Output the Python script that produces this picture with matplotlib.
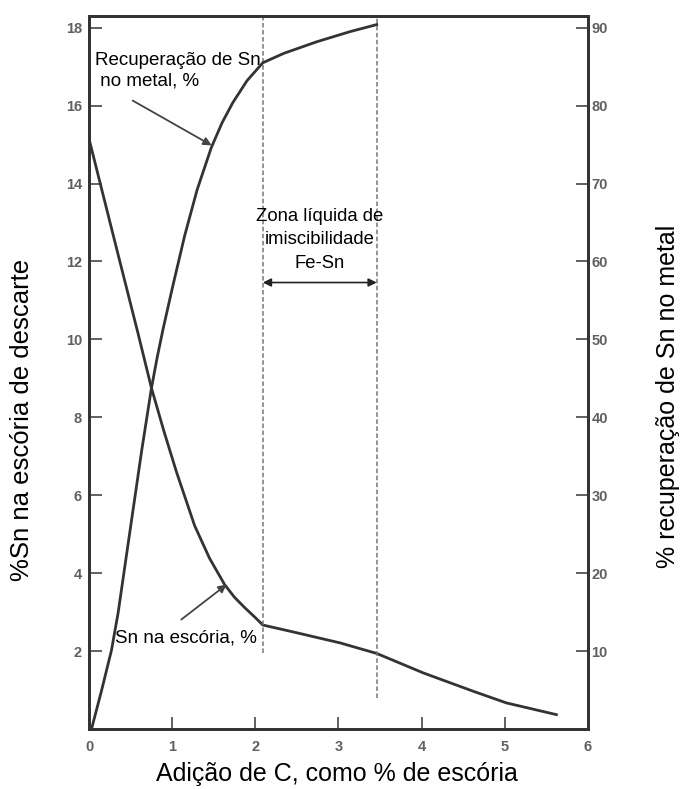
import numpy as np
import matplotlib
matplotlib.use("Agg")
import matplotlib.pyplot as plt

plt.rcParams['font.family'] = ['Liberation Sans', 'DejaVu Sans']

# Sn na escória (eixo esquerdo, %)
slag_x = [0.0, 0.30, 0.59, 0.75, 0.90, 1.05, 1.27, 1.45, 1.63, 1.75,
          1.875, 2.00, 2.09, 2.50, 3.02, 3.46, 4.02, 4.62, 5.02, 5.62]
slag_y = [15.15, 12.6, 10.15, 8.76, 7.65, 6.61, 5.22, 4.38, 3.71, 3.38,
          3.11, 2.86, 2.67, 2.47, 2.21, 1.94, 1.44, 0.97, 0.67, 0.37]

# Recuperação de Sn no metal (eixo direito, %)
rec_x = [0.03, 0.15, 0.27, 0.35, 0.43, 0.513, 0.633, 0.75, 0.82, 0.89,
         1.00, 1.15, 1.30, 1.47, 1.60, 1.73, 1.90, 2.09, 2.34, 2.74,
         3.14, 3.46]
rec_y = [0.0, 4.9, 10.1, 14.9, 20.8, 26.9, 35.7, 43.7, 47.7, 51.3,
         56.5, 63.3, 69.2, 74.6, 77.8, 80.4, 83.2, 85.5, 86.7, 88.2,
         89.5, 90.4]

# zona líquida de imiscibilidade Fe-Sn
zone_x = [2.09, 3.46]
zone_bottom = [1.95, 0.8]

x_ticks = [0, 1, 2, 3, 4, 5, 6]
left_ticks = [2, 4, 6, 8, 10, 12, 14, 16, 18]
right_ticks = [10, 20, 30, 40, 50, 60, 70, 80, 90]

line_c = '#333333'
tick_c = '#606060'

fig = plt.figure(figsize=(6.81, 7.89), dpi=100)
ax = fig.add_axes([0.1307, 0.076, 0.7327, 0.9037])
ax2 = ax.twinx()

ax.plot(slag_x, slag_y, color=line_c, lw=2)
ax2.plot(rec_x, rec_y, color=line_c, lw=2)

ax.set_xlim(0, 6)
ax.set_ylim(0, 18.3)
ax2.set_ylim(0, 91.5)

# dashed zone limits
for zx, zb in zip(zone_x, zone_bottom):
    ax.plot([zx, zx], [zb, 18.3], color='#777777', lw=1.1, ls=(0, (3, 1.6)))

ax.annotate('', xy=(zone_x[1], 11.46), xytext=(zone_x[0], 11.46),
            arrowprops=dict(arrowstyle='<|-|>', color='#222222', lw=1.2,
                            mutation_scale=12, shrinkA=0, shrinkB=0))
ax.text(sum(zone_x) / 2, 13.38, 'Zona líquida de\nimiscibilidade\nFe-Sn',
        ha='center', va='top', fontsize=13.3, linespacing=1.5)

ax.text(0.07, 17.38, 'Recuperação de Sn\n no metal, %', ha='left', va='top',
        fontsize=13.5, linespacing=1.3)
ax.annotate('', xy=(1.475, 14.98), xytext=(0.525, 16.13),
            arrowprops=dict(arrowstyle='-|>', color='#444444', lw=1.3,
                            mutation_scale=12, shrinkA=0, shrinkB=0))

ax.text(0.31, 2.34, 'Sn na escória, %', ha='left', va='center', fontsize=13.5)
ax.annotate('', xy=(1.655, 3.71), xytext=(1.11, 2.81),
            arrowprops=dict(arrowstyle='-|>', color='#444444', lw=1.3,
                            mutation_scale=12, shrinkA=0, shrinkB=0))

ax.set_xticks(x_ticks)
ax.set_yticks(left_ticks)
ax2.set_yticks(right_ticks)

for a in (ax, ax2):
    for s in a.spines.values():
        s.set_linewidth(2)
        s.set_color(line_c)
ax.tick_params(axis='both', direction='in', length=9, width=1.4, color=tick_c,
               labelcolor=tick_c, labelsize=10.5)
ax.tick_params(axis='x', pad=8)
ax.tick_params(axis='y', pad=5)
ax2.tick_params(axis='y', direction='in', length=9, width=1.4, color=tick_c,
                labelcolor=tick_c, labelsize=10.5, pad=2.5)
for lab in ax.get_xticklabels() + ax.get_yticklabels() + ax2.get_yticklabels():
    lab.set_fontweight('bold')

fig.text(337 / 681, 1 - 774 / 789, 'Adição de C, como % de escória',
         ha='center', va='center', fontsize=18)
fig.text(22 / 681, 1 - 420 / 789, '%Sn na escória de descarte',
         ha='center', va='center', rotation=90, fontsize=18.5)
fig.text(668 / 681, 1 - 396 / 789, '% recuperação de Sn no metal',
         ha='center', va='center', rotation=90, fontsize=18)

fig.savefig('out.png', dpi=100)
